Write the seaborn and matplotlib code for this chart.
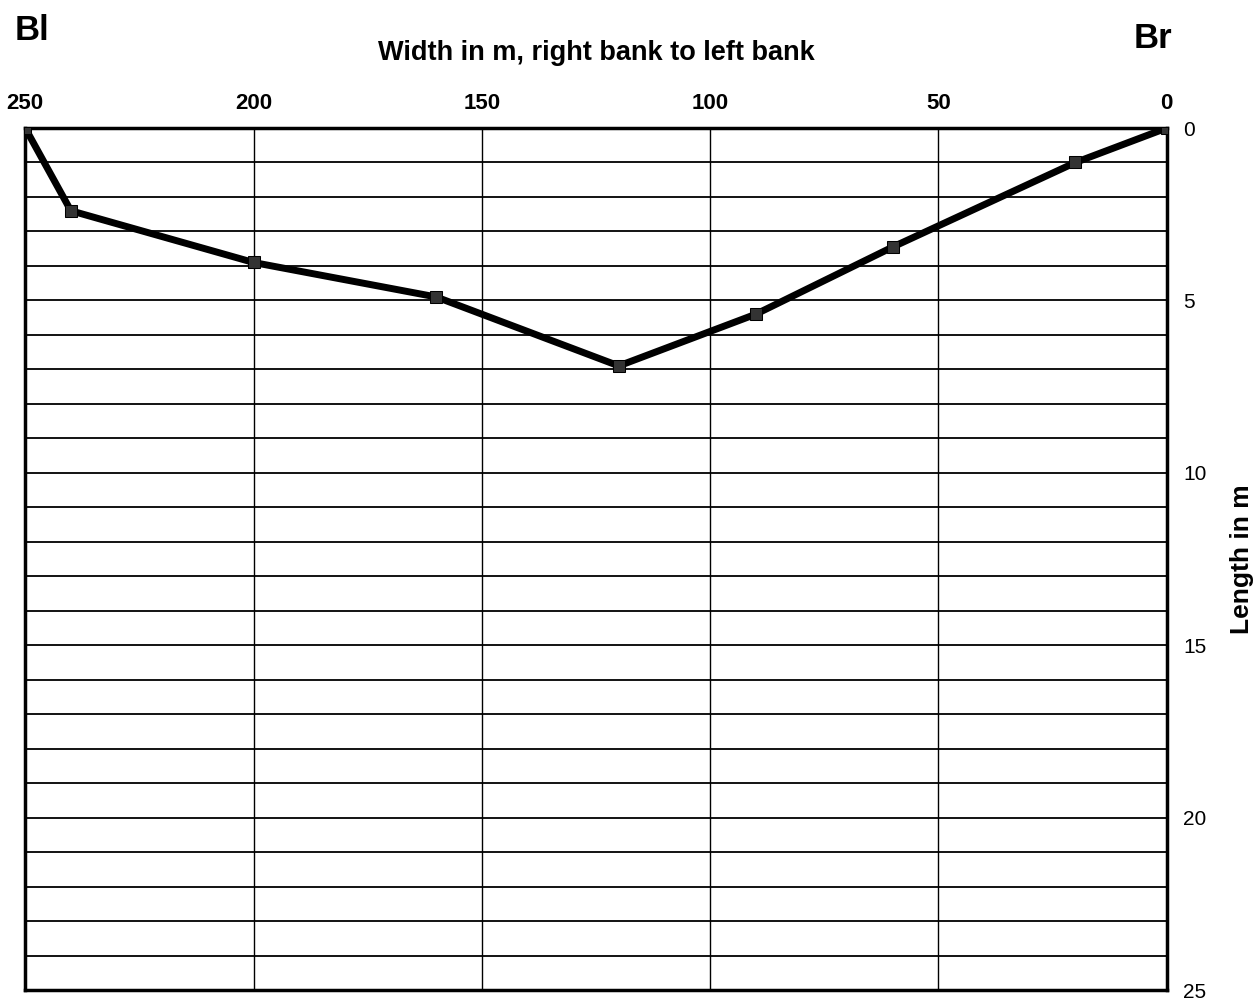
import pandas as pd
import numpy as np
import matplotlib
matplotlib.use("Agg")
import matplotlib.pyplot as plt
import seaborn as sns

# cross-section of the river bed
width = [250, 240, 200, 160, 120, 90, 60, 20, 0]
depth = [0, 2.4, 3.9, 4.9, 6.9, 5.4, 3.45, 1.0, 0]
x_ticks = [250, 200, 150, 100, 50, 0]
y_ticks = [0, 5, 10, 15, 20, 25]

df = pd.DataFrame({"width": width, "depth": depth})

sns.set_style("white")
plt.rcParams['font.family'] = ['Liberation Sans', 'DejaVu Sans']
plt.rcParams['text.color'] = 'black'
plt.rcParams['axes.labelcolor'] = 'black'
plt.rcParams['xtick.color'] = 'black'
plt.rcParams['ytick.color'] = 'black'

fig = plt.figure(figsize=(12.6, 10), dpi=100)
ax = fig.add_axes([0.02, 0.01, 0.906, 0.862])

sns.lineplot(data=df, x="width", y="depth", ax=ax, color="black", linewidth=5,
             marker="s", markersize=9, markeredgecolor="black", markerfacecolor="#333333",
             zorder=5)

ax.set_xlim(250, 0)
ax.set_ylim(25, 0)

# grid lines: every 1 m horizontally, every 50 m vertically
for yv in np.arange(1, 25, 1):
    ax.axhline(yv, color="black", linewidth=1.3, zorder=1)
for xv in [200, 150, 100, 50]:
    ax.axvline(xv, color="black", linewidth=1.0, zorder=1)

ax.xaxis.tick_top()
ax.xaxis.set_label_position("top")
ax.yaxis.tick_right()
ax.yaxis.set_label_position("right")
ax.set_xticks(x_ticks)
ax.set_yticks(y_ticks)
ax.set_xticklabels([str(v) for v in x_ticks], fontsize=16, fontweight="bold")
ax.set_yticklabels([str(v) for v in y_ticks], fontsize=15)
ax.tick_params(axis="x", length=0, pad=10)
ax.tick_params(axis="y", length=0, pad=12)

ax.set_xlabel("Width in m, right bank to left bank", fontsize=19.5, fontweight="bold", labelpad=24)
ax.set_ylabel("Length in m", fontsize=19, fontweight="bold", labelpad=17)

for side in ["left", "right", "top", "bottom"]:
    ax.spines[side].set_visible(True)
    ax.spines[side].set_color("black")
    ax.spines[side].set_linewidth(2.5)

fig.text(0.012, 0.97, "Bl", fontsize=25, fontweight="bold", ha="left", va="center")
fig.text(0.9, 0.962, "Br", fontsize=25, fontweight="bold", ha="left", va="center")

fig.savefig("out.png", dpi=100)
